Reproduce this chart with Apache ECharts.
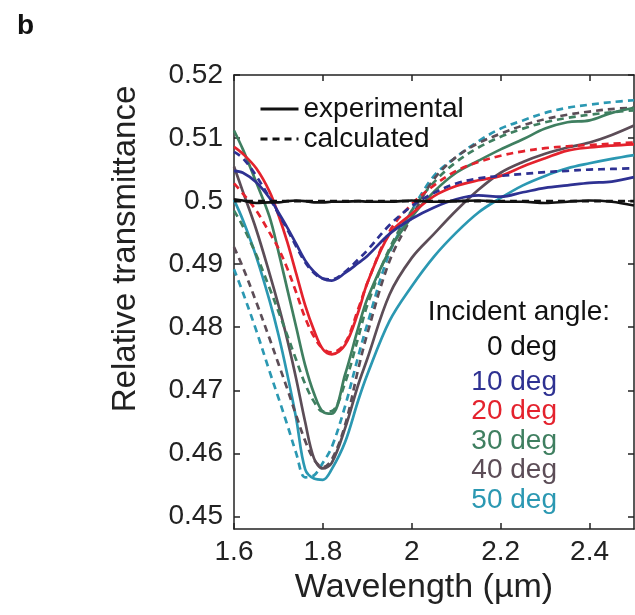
<!DOCTYPE html>
<html>
<head>
<meta charset="utf-8">
<script src="https://cdn.jsdelivr.net/npm/echarts@6/dist/echarts.min.js"></script>
<style>
  html, body { margin: 0; padding: 0; background: #fff; }
  #chart { width: 635px; height: 615px; }
</style>
</head>
<body>
<div id="chart"></div>
<script>
const FONT = '"Liberation Sans", Arial, sans-serif';

// wavelength grid (µm)
const wavelength = [1.6, 1.62, 1.65, 1.68, 1.7, 1.72, 1.74, 1.76, 1.78, 1.8, 1.82, 1.85, 1.88, 1.9,
  1.95, 2.0, 2.05, 2.1, 2.15, 2.2, 2.25, 2.3, 2.35, 2.4, 2.45, 2.5];

// relative transmittance, experimental (solid) and calculated (dashed)
const exp0 = [0.5003, 0.5001, 0.4997, 0.4998, 0.4998, 0.5000, 0.5001, 0.5000, 0.4998, 0.4998, 0.4999, 0.4999, 0.5000, 0.4999,
  0.4999, 0.5001, 0.4999, 0.5000, 0.5001, 0.4999, 0.4999, 0.4997, 0.4999, 0.5001, 0.4999, 0.4993];
const calc0 = [0.5000, 0.5000, 0.5000, 0.5000, 0.5000, 0.5000, 0.5000, 0.5000, 0.5000, 0.5000, 0.5000, 0.5000, 0.5000, 0.5000,
  0.5000, 0.5000, 0.5000, 0.5000, 0.5000, 0.5000, 0.5000, 0.5000, 0.5000, 0.5000, 0.5000, 0.5000];
const exp10 = [0.5048, 0.5045, 0.5030, 0.5005, 0.4982, 0.4958, 0.4932, 0.4906, 0.4888, 0.4877, 0.4874, 0.4886, 0.4902, 0.4913,
  0.4948, 0.4972, 0.4990, 0.5003, 0.5009, 0.5007, 0.5014, 0.5021, 0.5025, 0.5029, 0.5031, 0.5038];
const calc10 = [0.5078, 0.5068, 0.5040, 0.5005, 0.4980, 0.4955, 0.4928, 0.4903, 0.4886, 0.4877, 0.4876, 0.4888, 0.4908, 0.4922,
  0.4962, 0.4992, 0.5013, 0.5028, 0.5036, 0.5040, 0.5043, 0.5046, 0.5048, 0.5050, 0.5051, 0.5052];
const exp20 = [0.5086, 0.5075, 0.5052, 0.5015, 0.4978, 0.4935, 0.4885, 0.4835, 0.4795, 0.4765, 0.4757, 0.4772, 0.4825, 0.4870,
  0.4948, 0.4980, 0.5008, 0.5024, 0.5033, 0.5040, 0.5055, 0.5068, 0.5080, 0.5085, 0.5088, 0.5090];
const calc20 = [0.5028, 0.5012, 0.4985, 0.4950, 0.4925, 0.4893, 0.4855, 0.4815, 0.4785, 0.4766, 0.4760, 0.4775, 0.4830, 0.4870,
  0.4952, 0.4995, 0.5025, 0.5048, 0.5062, 0.5072, 0.5079, 0.5084, 0.5087, 0.5089, 0.5091, 0.5093];
const exp30 = [0.5112, 0.5082, 0.5030, 0.4975, 0.4920, 0.4860, 0.4800, 0.4740, 0.4695, 0.4666, 0.4663, 0.4725, 0.4800, 0.4845,
  0.4922, 0.4975, 0.5015, 0.5045, 0.5064, 0.5082, 0.5098, 0.5115, 0.5125, 0.5128, 0.5140, 0.5148];
const calc30 = [0.4985, 0.4960, 0.4915, 0.4862, 0.4825, 0.4787, 0.4748, 0.4710, 0.4682, 0.4666, 0.4667, 0.4712, 0.4785, 0.4835,
  0.4925, 0.4985, 0.5030, 0.5062, 0.5085, 0.5102, 0.5115, 0.5125, 0.5132, 0.5137, 0.5141, 0.5144];
const exp40 = [0.5055, 0.5015, 0.4955, 0.4885, 0.4835, 0.4780, 0.4718, 0.4650, 0.4592, 0.4576, 0.4585, 0.4640, 0.4710, 0.4750,
  0.4852, 0.4910, 0.4948, 0.4985, 0.5018, 0.5045, 0.5062, 0.5075, 0.5085, 0.5093, 0.5105, 0.5120];
const calc40 = [0.4927, 0.4895, 0.4840, 0.4782, 0.4742, 0.4702, 0.4660, 0.4620, 0.4590, 0.4578, 0.4590, 0.4645, 0.4735, 0.4790,
  0.4905, 0.4975, 0.5035, 0.5070, 0.5092, 0.5107, 0.5120, 0.5130, 0.5137, 0.5142, 0.5146, 0.5148];
const exp50 = [0.5002, 0.4970, 0.4912, 0.4842, 0.4788, 0.4725, 0.4655, 0.4575, 0.4560, 0.4558, 0.4575, 0.4618, 0.4685, 0.4725,
  0.4810, 0.4865, 0.4912, 0.4950, 0.4982, 0.5005, 0.5025, 0.5040, 0.5052, 0.5060, 0.5067, 0.5073];
const calc50 = [0.4892, 0.4855, 0.4795, 0.4730, 0.4688, 0.4645, 0.4600, 0.4562, 0.4565, 0.4585, 0.4610, 0.4675, 0.4755, 0.4805,
  0.4918, 0.4985, 0.5040, 0.5070, 0.5095, 0.5115, 0.5128, 0.5140, 0.5148, 0.5153, 0.5157, 0.5160];

const angleLabels = ['0 deg', '10 deg', '20 deg', '30 deg', '40 deg', '50 deg'];
const angleColors = ['#111111', '#2e3192', '#e4222d', '#3f7f60', '#5c4d57', '#2b98b2'];
const expData = [exp0, exp10, exp20, exp30, exp40, exp50];
const calcData = [calc0, calc10, calc20, calc30, calc40, calc50];

const xTicks = [1.6, 1.8, 2.0, 2.2, 2.4];
const yTicks = [0.45, 0.46, 0.47, 0.48, 0.49, 0.5, 0.51, 0.52];

const chart = echarts.init(document.getElementById('chart'), null, { renderer: 'canvas' });

const makeLine = (name, values, color, dashed) => ({
  name,
  type: 'line',
  data: wavelength.map((w, i) => [w, values[i]]),
  smooth: 0.35,
  symbol: 'none',
  lineStyle: { color, width: 2.7, type: dashed ? [7, 5] : 'solid' },
  itemStyle: { color },
  animation: false,
});

// black 0 deg curves double as the legend entries
const series = [];
for (let k = expData.length - 1; k >= 0; k--) {
  series.push(makeLine(k === 0 ? 'calculated' : angleLabels[k] + ' calc', calcData[k], angleColors[k], true));
  series.push(makeLine(k === 0 ? 'experimental' : angleLabels[k] + ' exp', expData[k], angleColors[k], false));
}

const axisLine = { lineStyle: { color: '#222', width: 1.5 } };
const tickIn = { inside: true, length: 6, lineStyle: { color: '#222', width: 1.5 } };

const angleText = [{ text: 'Incident angle:', color: '#111111', x: 610, y: 312 }]
  .concat(angleLabels.map((t, i) => ({ text: t, color: angleColors[i], x: 557, y: i === 0 ? 347 : 382 + (i - 1) * 29.5 })));

chart.setOption({
  backgroundColor: '#fff',
  title: {
    text: 'b',
    left: 12,
    top: 7,
    textStyle: { fontSize: 28, fontWeight: 'bold', fontFamily: FONT, color: '#111' },
  },
  grid: { left: 234, right: 1, top: 75, bottom: 86 },
  legend: {
    data: ['experimental', 'calculated'],
    orient: 'vertical',
    left: 254,
    top: 90,
    itemWidth: 38,
    itemHeight: 14,
    itemGap: 2,
    itemStyle: { opacity: 0 },
    lineStyle: { width: 3 },
    textStyle: { fontSize: 28, fontFamily: FONT, color: '#111', lineHeight: 28 },
    selectedMode: false,
  },
  xAxis: [
    {
      type: 'value',
      min: 1.6,
      max: 2.5,
      name: 'Wavelength (µm)',
      nameLocation: 'middle',
      nameGap: 38,
      nameTextStyle: { fontSize: 34, fontFamily: FONT, color: '#222', padding: [0, 20, 0, 0] },
      axisLine,
      axisTick: { ...tickIn, customValues: xTicks },
      axisLabel: { customValues: xTicks, fontSize: 28, fontFamily: FONT, color: '#222', margin: 9 },
      splitLine: { show: false },
    },
    {
      type: 'value',
      position: 'top',
      min: 1.6,
      max: 2.5,
      axisLine,
      axisTick: { ...tickIn, customValues: xTicks },
      axisLabel: { show: false },
      splitLine: { show: false },
    },
  ],
  yAxis: [
    {
      type: 'value',
      min: 0.448,
      max: 0.52,
      name: 'Relative transmittance',
      nameLocation: 'middle',
      nameGap: 92,
      nameTextStyle: { fontSize: 33, fontFamily: FONT, color: '#222', padding: [0, 0, 0, 106] },
      axisLine,
      axisTick: { ...tickIn, customValues: yTicks },
      axisLabel: { customValues: yTicks, fontSize: 28, fontFamily: FONT, color: '#222', margin: 11 },
      splitLine: { show: false },
    },
    {
      type: 'value',
      position: 'right',
      min: 0.448,
      max: 0.52,
      axisLine,
      axisTick: { ...tickIn, customValues: yTicks },
      axisLabel: { show: false },
      splitLine: { show: false },
    },
  ],
  graphic: angleText.map((t) => ({
    type: 'text',
    x: t.x,
    y: t.y,
    style: {
      text: t.text,
      fill: t.color,
      font: '28px ' + FONT,
      align: 'right',
      verticalAlign: 'middle',
    },
    z: 100,
  })),
  series,
});
</script>
</body>
</html>
